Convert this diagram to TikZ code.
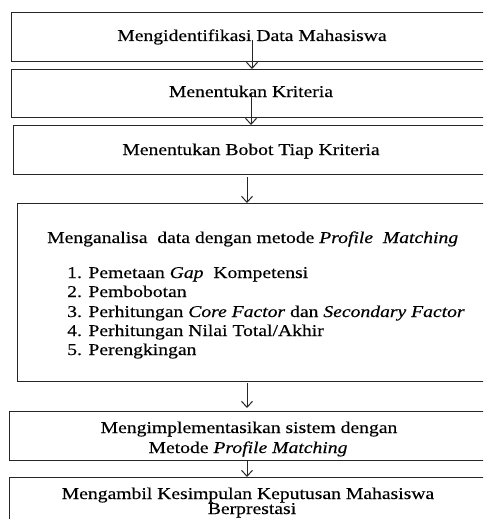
\documentclass[tikz,border=0pt]{standalone}
\usepackage{fontspec}
\setmainfont[FakeStretch=1.19,FakeBold=0.3]{Liberation Serif}
\usetikzlibrary{arrows.meta}
\begin{document}
\begin{tikzpicture}[x=1pt,y=-1pt,
  box/.style={draw=black!85,line width=1.2pt,rectangle,anchor=north west,inner sep=0pt,minimum width=480pt},
  txt/.style={anchor=base,inner sep=0pt,font=\fontsize{16.5}{19}\selectfont,text=black},
  ltxt/.style={txt,anchor=base west},
  arr/.style={draw=black!85,line width=1pt,-{Straight Barb[length=6pt,width=11pt]}}]
\useasboundingbox[fill=white] (0,0) rectangle (483,519);
\clip (0,0) rectangle (483,519);
% boxes
\node[box,minimum height=49pt] (b1) at (11,12) {};
\node[box,minimum height=48pt] (b2) at (11,69) {};
\node[box,minimum height=49pt] (b3) at (13,125) {};
\node[box,minimum height=178pt] (b4) at (17,203) {};
\node[box,minimum height=49pt] (b5) at (9,411) {};
\node[box,minimum height=70pt] (b6) at (9,477) {};
% texts
\node[txt] (t1) at (252,41) {Mengidentifikasi Data Mahasiswa};
\node[txt] (t2) at (251,97) {Menentukan Kriteria};
\node[txt] (t3) at (251,155) {Menentukan Bobot Tiap Kriteria};
\node[ltxt] (h4) at (47,243) {Menganalisa\ \ data dengan metode \textit{Profile}\ \ \textit{Matching}};
\node[ltxt] (i1) at (67,278) {1. Pemetaan \textit{Gap}\ \ Kompetensi};
\node[ltxt] (i2) at (67,297) {2. Pembobotan};
\node[ltxt] (i3) at (67,317) {3. Perhitungan \textit{Core Factor} dan \textit{Secondary Factor}};
\node[ltxt] (i4) at (67,336) {4. Perhitungan Nilai Total/Akhir};
\node[ltxt] (i5) at (67,355) {5. Perengkingan};
\node[txt] (t5a) at (249,433) {Mengimplementasikan sistem dengan};
\node[txt] (t5b) at (248,453) {Metode \textit{Profile Matching}};
\node[txt] (t6a) at (248,499) {Mengambil Kesimpulan Keputusan Mahasiswa};
\node[txt] (t6b) at (252,514) {Berprestasi};
% connectors
\coordinate (ax) at (247,0);
\draw[arr] ([yshift=1pt]t1.base) -- (t1.base |- b2.north);
\draw[arr] ([yshift=5pt]t2.base) -- (t2.base |- b3.north);
\draw[arr] ([yshift=-2pt]b3.south -| ax) -- (b4.north -| ax);
\draw[arr] ([yshift=-1pt]b4.south -| ax) -- ([yshift=3pt]b5.north -| ax);
\draw[arr] (b5.south -| ax) -- (b6.north -| ax);
\end{tikzpicture}
\end{document}
